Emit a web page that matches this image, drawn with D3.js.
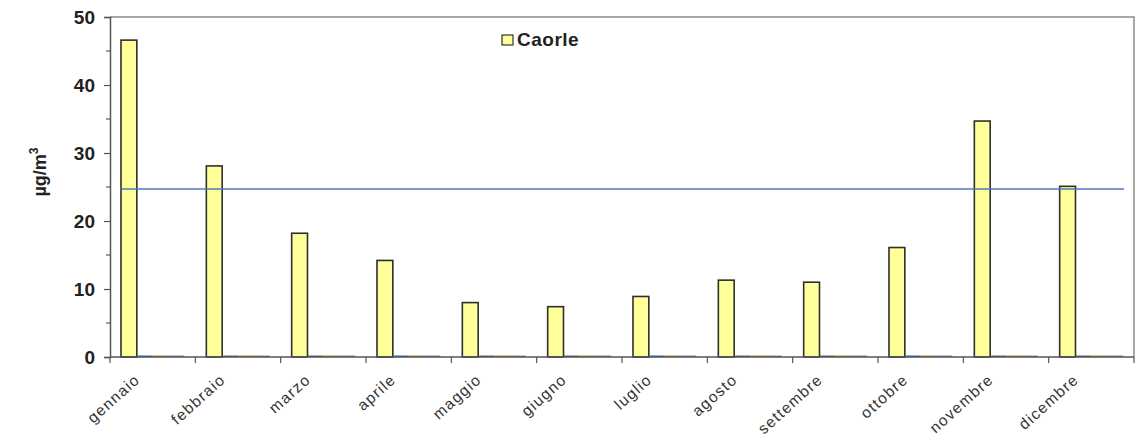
<!DOCTYPE html>
<html>
<head>
<meta charset="utf-8">
<script src="https://cdn.jsdelivr.net/npm/d3@7"></script>
<style>
  html, body { margin: 0; padding: 0; background: #fff; }
  svg { display: block; font-family: Arial, "Liberation Sans", sans-serif; }
</style>
</head>
<body>
<svg id="chart" width="1138" height="441"></svg>
<script>
const months = ["gennaio","febbraio","marzo","aprile","maggio","giugno","luglio","agosto","settembre","ottobre","novembre","dicembre"];
const caorle = [46.6, 28.1, 18.2, 14.2, 8.0, 7.4, 8.9, 11.3, 11.0, 16.1, 34.7, 25.1];
const serieB = [0,0,0,0,0,0,0,0,0,0,0,0];
const serieC = [0,0,0,0,0,0,0,0,0,0,0,0];
const serieD = [0,0,0,0,0,0,0,0,0,0,0,0];
const limitValue = 24.7;
const yTicks = [0, 10, 20, 30, 40, 50];

const series = [
  {name: "Caorle", values: caorle, fill: "#ffff99", stroke: "#2e2e2e", legend: true},
  {name: "b", values: serieB, fill: "#3d6f93", stroke: "#3d6f93", legend: false},
  {name: "c", values: serieC, fill: "#b5834e", stroke: "#b5834e", legend: false},
  {name: "d", values: serieD, fill: "#6f8fae", stroke: "#6f8fae", legend: false}
];

const svg = d3.select("#chart");
const L = 110, R = 1134, T = 17, B = 357;

const x0 = d3.scaleBand().domain(months).range([L, R]).padding(0);
const x1 = d3.scaleBand().domain(series.map(s => s.name)).range([11, x0.bandwidth() - 11]).padding(0);
const y = d3.scaleLinear().domain([0, 50]).range([B, T]);

// frame (top and right)
svg.append("path")
  .attr("d", `M${L},${T}H${R}V${B}`)
  .attr("fill", "none").attr("stroke", "#8a8a8a").attr("stroke-width", 1.5);

// bars
series.forEach(s => {
  svg.append("g").selectAll("rect")
    .data(s.values.map((v, i) => ({m: months[i], v})))
    .join("rect")
    .attr("x", d => x0(d.m) + x1(s.name))
    .attr("y", d => d.v > 0 ? y(d.v) : y(d.v) - 1.5)
    .attr("width", x1.bandwidth())
    .attr("height", d => d.v > 0 ? y(0) - y(d.v) : 1.5)
    .attr("fill", s.fill)
    .attr("stroke", d => d.v > 0 ? s.stroke : "none")
    .attr("stroke-width", 1.6);
});

// limit line
svg.append("line")
  .attr("x1", x0(months[0]) + x1(series[0].name))
  .attr("x2", R - 10)
  .attr("y1", y(limitValue)).attr("y2", y(limitValue))
  .attr("stroke", "#4a78c0").attr("stroke-width", 1.6);

// y axis
const yAxis = d3.axisLeft(y).tickValues(yTicks).tickSize(6).tickPadding(9).tickFormat(d3.format("d"));
const gy = svg.append("g").attr("transform", `translate(${L},0)`).call(yAxis);
gy.select(".domain").attr("stroke", "#555").attr("stroke-width", 1.5);
gy.selectAll(".tick line").attr("stroke", "#555").attr("stroke-width", 1.2);
gy.selectAll(".tick text").attr("font-size", 19).attr("font-weight", "bold").attr("fill", "#222")
  .attr("font-family", "Arial, 'Liberation Sans', sans-serif").attr("dy", "0.36em");
// minor ticks
const minor = svg.append("g").attr("transform", `translate(${L},0)`);
minor.selectAll("line").data(d3.range(5, 50, 10)).join("line")
  .attr("x1", -4).attr("x2", 0).attr("y1", d => y(d)).attr("y2", d => y(d))
  .attr("stroke", "#555").attr("stroke-width", 1.2);

// x axis
const gx = svg.append("g").attr("transform", `translate(0,${B})`);
gx.append("line").attr("x1", L).attr("x2", R).attr("stroke", "#555").attr("stroke-width", 1.5);
const bounds = months.map(m => x0(m)).concat([R]);
gx.selectAll("line.tk").data(bounds).join("line").attr("class", "tk")
  .attr("x1", d => d).attr("x2", d => d).attr("y1", 0).attr("y2", 6)
  .attr("stroke", "#555").attr("stroke-width", 1.2);
gx.selectAll("text").data(months).join("text")
  .attr("transform", d => `translate(${x0(d) + 31},${24}) rotate(-42)`)
  .attr("text-anchor", "end")
  .attr("font-size", 15.5)
  .attr("letter-spacing", 1.3)
  .attr("fill", "#333")
  .text(d => d);

// y label
const yl = svg.append("text")
  .attr("transform", `translate(46,172) rotate(-90)`)
  .attr("text-anchor", "middle")
  .attr("font-size", 18).attr("font-weight", "bold").attr("fill", "#222");
yl.append("tspan").text("µg/m");
yl.append("tspan").attr("font-size", 12).attr("dy", -8).text("3");

// legend
const lg = svg.append("g").attr("transform", "translate(502,35)");
lg.append("rect").attr("width", 11).attr("height", 10)
  .attr("fill", series[0].fill).attr("stroke", "#333").attr("stroke-width", 1.2);
lg.append("text").attr("x", 15).attr("y", 11)
  .attr("font-size", 19).attr("font-weight", "bold").attr("fill", "#222")
  .attr("letter-spacing", 0.5)
  .text(series[0].name);
</script>
</body>
</html>
